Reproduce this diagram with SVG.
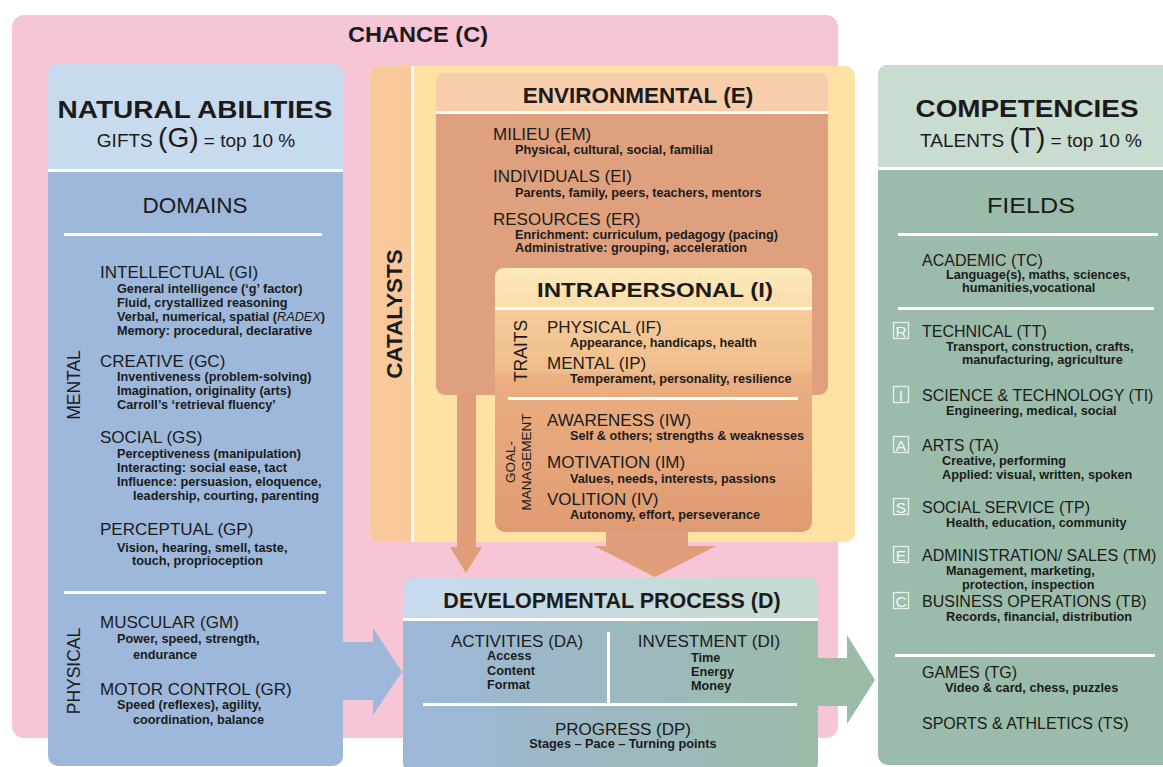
<svg xmlns="http://www.w3.org/2000/svg" width="1163" height="767" viewBox="0 0 1163 767">
  <defs>
    <style>
      text { font-family: "Liberation Sans", Arial, Helvetica, sans-serif; fill: #1b1b1b; }
      .h { font-size: 17px; }
      .hr { font-size: 16px; }
      .s { font-size: 12.7px; font-weight: bold; }
      .b { font-weight: bold; }
      .c { text-anchor: middle; }
      .sep { fill: #ffffff; }
      .tag rect { fill: none; stroke: #e6efe9; stroke-width: 1.3; }
      .tag text { font-size: 15.5px; fill: #f2f7f4; text-anchor: middle; }
      .warm { fill: #df9e79; }
    </style>
    <linearGradient id="devHead" x1="0" y1="0" x2="1" y2="0">
      <stop offset="0" stop-color="#c9daef"/>
      <stop offset="1" stop-color="#c5dbcf"/>
    </linearGradient>
    <linearGradient id="devBody" x1="0" y1="0" x2="1" y2="0">
      <stop offset="0" stop-color="#9db7da"/>
      <stop offset="1" stop-color="#9bbba8"/>
    </linearGradient>
    <linearGradient id="intraHead" x1="0" y1="0" x2="0" y2="1">
      <stop offset="0" stop-color="#fdeabb"/>
      <stop offset="1" stop-color="#fbddaa"/>
    </linearGradient>
    <linearGradient id="intraBody" x1="0" y1="0" x2="0" y2="1">
      <stop offset="0" stop-color="#f9d6a3"/>
      <stop offset="0.39" stop-color="#f0bd8c"/>
      <stop offset="0.41" stop-color="#ebaf81"/>
      <stop offset="1" stop-color="#e09b73"/>
    </linearGradient>
  </defs>

  <!-- chance: outer frame -->
  <g id="chance">
    <rect x="12" y="15" width="826" height="723" rx="12" fill="#f7c6d6"/>
    <text x="348" y="42" class="b" font-size="22" textLength="140" lengthAdjust="spacingAndGlyphs">CHANCE (C)</text>
  </g>

  <!-- catalysts frame -->
  <g id="catalysts">
    <rect x="370" y="66" width="485" height="476" rx="10" fill="#fde2a4"/>
    <path d="M370,76 Q370,66 380,66 H411 V542 H380 Q370,542 370,532 Z" fill="#f9c99c"/>
    <rect x="411" y="66" width="3" height="476" class="sep"/>
    <text transform="translate(402,314) rotate(-90)" class="b c" font-size="22.5">CATALYSTS</text>
  </g>

  <!-- environmental catalysts -->
  <g id="environmental">
    <rect x="436" y="73" width="392" height="322" rx="9" fill="#dfa07e"/>
    <path d="M436,112 V81 Q436,73 444,73 H820 Q828,73 828,81 V112 Z" fill="#f8cdab"/>
    <rect x="436" y="111" width="392" height="3" class="sep"/>
    <text x="638" y="103" class="b c" font-size="22.5">ENVIRONMENTAL (E)</text>
    <text x="493" y="140" class="h">MILIEU (EM)</text>
    <text x="515" y="153.5" class="s">Physical, cultural, social, familial</text>
    <text x="493" y="182" class="h">INDIVIDUALS (EI)</text>
    <text x="515" y="197" class="s">Parents, family, peers, teachers, mentors</text>
    <text x="493" y="225" class="h">RESOURCES (ER)</text>
    <text x="515" y="239" class="s">Enrichment: curriculum, pedagogy (pacing)</text>
    <text x="515" y="252" class="s">Administrative: grouping, acceleration</text>
  </g>

  <!-- intrapersonal catalysts -->
  <g id="intrapersonal">
    <rect x="495" y="268" width="317" height="264" rx="10" fill="url(#intraBody)"/>
    <path d="M495,308 V278 Q495,268 505,268 H802 Q812,268 812,278 V308 Z" fill="url(#intraHead)"/>
    <rect x="495" y="307" width="317" height="3" class="sep"/>
    <rect x="508" y="397" width="290" height="3" class="sep"/>
    <text x="655" y="297" class="b c" font-size="21" textLength="236" lengthAdjust="spacingAndGlyphs">INTRAPERSONAL (I)</text>
    <text transform="translate(527,351) rotate(-90)" class="c" font-size="17.5">TRAITS</text>
    <text transform="translate(515,462) rotate(-90)" class="c" font-size="13.5">GOAL-</text>
    <text transform="translate(531,462) rotate(-90)" class="c" font-size="13.5">MANAGEMENT</text>
    <text x="547" y="333" class="h">PHYSICAL (IF)</text>
    <text x="570" y="346.5" class="s">Appearance, handicaps, health</text>
    <text x="547" y="369" class="h">MENTAL (IP)</text>
    <text x="570" y="383" class="s">Temperament, personality, resilience</text>
    <text x="547" y="426" class="h">AWARENESS (IW)</text>
    <text x="570" y="440" class="s">Self &amp; others; strengths &amp; weaknesses</text>
    <text x="547" y="468" class="h">MOTIVATION (IM)</text>
    <text x="570" y="483" class="s">Values, needs, interests, passions</text>
    <text x="547" y="505" class="h">VOLITION (IV)</text>
    <text x="570" y="519" class="s">Autonomy, effort, perseverance</text>
  </g>

  <!-- natural abilities (gifts) -->
  <g id="natural-abilities">
    <rect x="48" y="64" width="295" height="702" rx="10" fill="#9db8da"/>
    <path d="M48,170 V74 Q48,64 58,64 H333 Q343,64 343,74 V170 Z" fill="#c8daee"/>
    <rect x="48" y="169" width="295" height="3" class="sep"/>
    <text x="195" y="118" class="b c" font-size="23" textLength="275" lengthAdjust="spacingAndGlyphs">NATURAL ABILITIES</text>
    <text x="196" y="147" class="c" font-size="19" fill="#333">GIFTS <tspan font-size="28">(G)</tspan> = top 10 %</text>
    <text x="195" y="213" class="c" font-size="21.5" textLength="105" lengthAdjust="spacingAndGlyphs">DOMAINS</text>
    <rect x="64" y="233" width="258" height="3" class="sep"/>
    <text transform="translate(80,385) rotate(-90)" class="c" font-size="17.5">MENTAL</text>
    <text x="100" y="278" class="h">INTELLECTUAL (GI)</text>
    <text x="117" y="293" class="s">General intelligence (‘g’ factor)</text>
    <text x="117" y="307" class="s">Fluid, crystallized reasoning</text>
    <text x="117" y="321" class="s">Verbal, numerical, spatial (<tspan font-style="italic" font-weight="normal">RADEX</tspan>)</text>
    <text x="117" y="335" class="s">Memory: procedural, declarative</text>
    <text x="100" y="367" class="h">CREATIVE (GC)</text>
    <text x="117" y="381" class="s">Inventiveness (problem-solving)</text>
    <text x="117" y="395" class="s">Imagination, originality (arts)</text>
    <text x="117" y="409" class="s">Carroll’s ‘retrieval fluency’</text>
    <text x="100" y="443" class="h">SOCIAL (GS)</text>
    <text x="117" y="458" class="s">Perceptiveness (manipulation)</text>
    <text x="117" y="472" class="s">Interacting: social ease, tact</text>
    <text x="117" y="486" class="s">Influence: persuasion, eloquence,</text>
    <text x="133" y="500" class="s">leadership, courting, parenting</text>
    <text x="100" y="535" class="h">PERCEPTUAL (GP)</text>
    <text x="117" y="552" class="s">Vision, hearing, smell, taste,</text>
    <text x="132" y="565" class="s">touch, proprioception</text>
    <rect x="64" y="591" width="262" height="3" class="sep"/>
    <text transform="translate(80,671) rotate(-90)" class="c" font-size="17.5">PHYSICAL</text>
    <text x="100" y="628" class="h">MUSCULAR (GM)</text>
    <text x="117" y="643" class="s">Power, speed, strength,</text>
    <text x="133" y="659" class="s">endurance</text>
    <text x="100" y="695" class="h">MOTOR CONTROL (GR)</text>
    <text x="117" y="709" class="s">Speed (reflexes), agility,</text>
    <text x="133" y="724" class="s">coordination, balance</text>
  </g>

  <!-- developmental process -->
  <g id="developmental-process">
    <rect x="403" y="578" width="415" height="195" rx="10" fill="url(#devBody)"/>
    <path d="M403,619 V588 Q403,578 413,578 H808 Q818,578 818,588 V619 Z" fill="url(#devHead)"/>
    <rect x="403" y="618" width="415" height="3" class="sep"/>
    <rect x="607" y="632" width="3" height="72" class="sep"/>
    <rect x="423" y="703" width="374" height="3" class="sep"/>
    <text x="612" y="608" class="b c" font-size="21.5">DEVELOPMENTAL PROCESS (D)</text>
    <text x="517" y="647" class="h c">ACTIVITIES (DA)</text>
    <text x="487" y="660" class="s">Access</text>
    <text x="487" y="675" class="s">Content</text>
    <text x="487" y="689" class="s">Format</text>
    <text x="709" y="647" class="h c">INVESTMENT (DI)</text>
    <text x="691" y="662" class="s">Time</text>
    <text x="691" y="676" class="s">Energy</text>
    <text x="691" y="690" class="s">Money</text>
    <text x="623" y="735" class="h c">PROGRESS (DP)</text>
    <text x="623" y="748" class="s c">Stages – Pace – Turning points</text>
  </g>

  <!-- competencies (talents) -->
  <g id="competencies">
    <rect x="878" y="65" width="300" height="700" rx="10" fill="#9bbcaa"/>
    <path d="M878,168 V75 Q878,65 888,65 H1178 V168 Z" fill="#c8dcd0"/>
    <rect x="878" y="167" width="300" height="3" class="sep"/>
    <text x="1027" y="117" class="b c" font-size="23" textLength="223" lengthAdjust="spacingAndGlyphs">COMPETENCIES</text>
    <text x="1031" y="147" class="c" font-size="19" fill="#333">TALENTS <tspan font-size="28">(T)</tspan> = top 10 %</text>
    <text x="1031" y="213" class="c" font-size="21.5" textLength="88" lengthAdjust="spacingAndGlyphs">FIELDS</text>
    <rect x="898" y="233" width="260" height="3" class="sep"/>
    <text x="922" y="266" class="hr">ACADEMIC (TC)</text>
    <text x="946" y="279" class="s">Language(s), maths, sciences,</text>
    <text x="962" y="292" class="s">humanities,vocational</text>
    <rect x="898" y="307" width="256" height="3" class="sep"/>

    <g class="tag"><rect x="893.5" y="322.5" width="15" height="16"/><text x="901" y="337">R</text></g>
    <text x="922" y="337" class="hr">TECHNICAL (TT)</text>
    <text x="946" y="351" class="s">Transport, construction, crafts,</text>
    <text x="962" y="364" class="s">manufacturing, agriculture</text>

    <g class="tag"><rect x="893.5" y="386.5" width="15" height="16"/><text x="901" y="401">I</text></g>
    <text x="922" y="401" class="hr">SCIENCE &amp; TECHNOLOGY (TI)</text>
    <text x="946" y="415" class="s">Engineering, medical, social</text>

    <g class="tag"><rect x="893.5" y="436.5" width="15" height="16"/><text x="901" y="451">A</text></g>
    <text x="922" y="451" class="hr">ARTS (TA)</text>
    <text x="942" y="465" class="s">Creative, performing</text>
    <text x="942" y="479" class="s">Applied: visual, written, spoken</text>

    <g class="tag"><rect x="893.5" y="498.5" width="15" height="16"/><text x="901" y="513">S</text></g>
    <text x="922" y="513" class="hr">SOCIAL SERVICE (TP)</text>
    <text x="946" y="527" class="s">Health, education, community</text>

    <g class="tag"><rect x="893.5" y="546.5" width="15" height="16"/><text x="901" y="561">E</text></g>
    <text x="922" y="561" class="hr">ADMINISTRATION/ SALES (TM)</text>
    <text x="946" y="575" class="s">Management, marketing,</text>
    <text x="962" y="589" class="s">protection, inspection</text>

    <g class="tag"><rect x="893.5" y="592.5" width="15" height="16"/><text x="901" y="607">C</text></g>
    <text x="922" y="607" class="hr">BUSINESS OPERATIONS (TB)</text>
    <text x="946" y="621" class="s">Records, financial, distribution</text>

    <rect x="895" y="654" width="260" height="3" class="sep"/>
    <text x="922" y="678" class="hr">GAMES (TG)</text>
    <text x="945" y="692" class="s">Video &amp; card, chess, puzzles</text>
    <text x="922" y="729" class="hr">SPORTS &amp; ATHLETICS (TS)</text>
  </g>

  <!-- connectors: block arrows between components -->
  <g id="connectors">
    <polygon points="343,642 373,642 373,628 402,672 373,715 373,700 343,700" fill="#9db8da"/>
    <polygon points="818,658 847,658 847,635 875,680 847,724 847,706 818,706" fill="#9bbba8"/>
    <polygon class="warm" points="457,393 476,393 476,547 482,547 466,573 450,547 457,547"/>
    <polygon class="warm" points="606,530 688,530 688,546 716,546 655,577 594,546 606,546"/>
  </g>
</svg>
